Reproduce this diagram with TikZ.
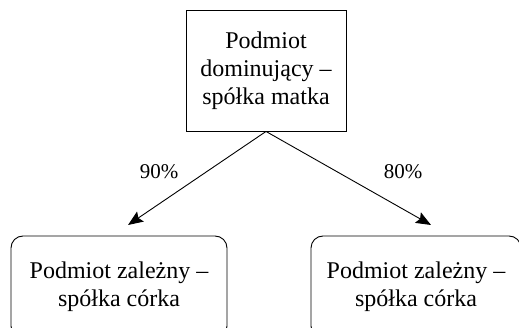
\documentclass[tikz,border=0pt]{standalone}
\usepackage{fontspec}
\setmainfont{Liberation Serif}
\usetikzlibrary{arrows.meta}
\begin{document}
\begin{tikzpicture}[x=1pt,y=-1pt,
  box/.style={draw, line width=0.9pt, align=center, inner sep=0pt,
    font=\fontsize{24}{28}\selectfont},
  rbox/.style={box, rounded corners=12pt},
  link/.style={line width=0.9pt, -{Stealth[length=15pt,width=12pt,inset=2.5pt]}},
  pct/.style={font=\fontsize{21}{24}\selectfont}]
\useasboundingbox (0,0) rectangle (519,328);
% parent company
\node[box, minimum width=160pt, minimum height=121pt] (parent) at (266,70.5)
  {Podmiot\\dominujący –\\spółka matka};
% subsidiaries
\node[rbox, minimum width=216pt, minimum height=102pt] (subA) at (119,287)
  {Podmiot zależny –\\spółka córka};
\node[rbox, minimum width=210pt, minimum height=102pt] (subB) at (416,287)
  {Podmiot zależny –\\spółka córka};
% arrow ends
\coordinate (endA) at (128,225);
\coordinate (endB) at (431,225);
\draw[link] (parent.south) -- (endA);
\draw[link] (parent.south) -- (endB);
% shares
\node[pct] (shareA) at (159,172) {90\%};
\node[pct] (shareB) at (403,172) {80\%};
\end{tikzpicture}
\end{document}
